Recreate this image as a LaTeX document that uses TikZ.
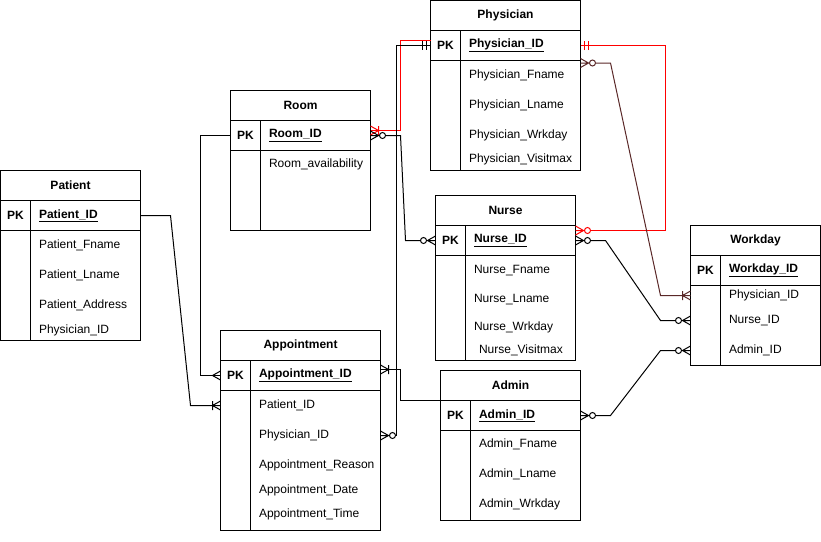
\documentclass[tikz,border=0pt]{standalone}
\usepackage{fontspec}
\setmainfont{Liberation Sans}
\usetikzlibrary{arrows.meta}

\definecolor{erred}{RGB}{255,0,0}
\definecolor{erbrown}{RGB}{90,40,40}

\newcommand{\erfont}{\fontsize{12}{14}\selectfont}

% crow's foot tips
\pgfdeclarearrow{
  name = ER many,
  setup code = {
    \pgfarrowssettipend{0pt}\pgfarrowssetlineend{0pt}
    \pgfarrowssetbackend{-8pt}\pgfarrowssetvisualbackend{-8pt}
  },
  drawing code = {
    \pgfpathmoveto{\pgfqpoint{0pt}{4.5pt}}
    \pgfpathlineto{\pgfqpoint{-8pt}{0pt}}
    \pgfpathlineto{\pgfqpoint{0pt}{-4.5pt}}
    \pgfusepathqstroke
  }
}
\pgfdeclarearrow{
  name = ER one many,
  setup code = {
    \pgfarrowssettipend{0pt}\pgfarrowssetlineend{0pt}
    \pgfarrowssetbackend{-8pt}\pgfarrowssetvisualbackend{-8pt}
  },
  drawing code = {
    \pgfpathmoveto{\pgfqpoint{0pt}{4.5pt}}
    \pgfpathlineto{\pgfqpoint{-8pt}{0pt}}
    \pgfpathlineto{\pgfqpoint{0pt}{-4.5pt}}
    \pgfpathmoveto{\pgfqpoint{-8pt}{4.5pt}}
    \pgfpathlineto{\pgfqpoint{-8pt}{-4.5pt}}
    \pgfusepathqstroke
  }
}
\pgfdeclarearrow{
  name = ER zero many,
  setup code = {
    \pgfarrowssettipend{0pt}\pgfarrowssetlineend{-15pt}
    \pgfarrowssetbackend{-15pt}\pgfarrowssetvisualbackend{-15pt}
  },
  drawing code = {
    \pgfpathmoveto{\pgfqpoint{0pt}{4.5pt}}
    \pgfpathlineto{\pgfqpoint{-8pt}{0pt}}
    \pgfpathlineto{\pgfqpoint{0pt}{-4.5pt}}
    \pgfpathmoveto{\pgfqpoint{0pt}{0pt}}
    \pgfpathlineto{\pgfqpoint{-9pt}{0pt}}
    \pgfusepathqstroke
    \pgfpathcircle{\pgfqpoint{-12pt}{0pt}}{3pt}
    \pgfusepathqstroke
  }
}
\pgfdeclarearrow{
  name = ER one one,
  setup code = {
    \pgfarrowssettipend{0pt}\pgfarrowssetlineend{0pt}
    \pgfarrowssetbackend{-8pt}\pgfarrowssetvisualbackend{-8pt}
  },
  drawing code = {
    \pgfpathmoveto{\pgfqpoint{-4pt}{4.5pt}}
    \pgfpathlineto{\pgfqpoint{-4pt}{-4.5pt}}
    \pgfpathmoveto{\pgfqpoint{-8pt}{4.5pt}}
    \pgfpathlineto{\pgfqpoint{-8pt}{-4.5pt}}
    \pgfusepathqstroke
  }
}

\tikzset{
  er head/.style={draw, anchor=north west, minimum height=30pt, inner sep=0pt, outer sep=0pt, font=\erfont\bfseries},
  er row/.style={draw, anchor=north west, minimum height=30pt, inner sep=0pt, outer sep=0pt},
  er bold/.style={inner sep=0pt, font=\erfont\bfseries},
  er attr/.style={anchor=west, inner sep=0pt, font=\erfont},
  thin div/.style={},
  thick div/.style={line width=1.8pt},
}

% #1 name, #2 x, #3 y, #4 width, #5 body height, #6 title, #7 key, #8 divider
\newcommand{\ertable}[8]{%
  \node[er head, minimum width=#4pt] (#1) at (#2,#3) {#6};
  \node[er row, minimum width=#4pt] (#1-pk) at (#1.south west) {};
  \node[er row, minimum width=#4pt, minimum height=#5pt] (#1-body) at (#1-pk.south west) {};
  \draw[#8] ([xshift=30pt]#1-pk.north west) -- ([xshift=30pt]#1-body.south west);
  \node[er bold] (#1-pkl) at ([xshift=15pt]#1-pk.west) {PK};
  \node[er bold, anchor=west] (#1-key) at ([xshift=38pt]#1-pk.west) {\underline{#7}};
}

\begin{document}
\begin{tikzpicture}[x=1pt, y=-1pt, line width=1pt]
  \useasboundingbox (0,0) rectangle (821,541);

  % tables
  \ertable{phys}{430.5}{0.5}{150}{110}{Physician}{Physician\_ID}{thick div}
  \ertable{room}{230.5}{90.5}{140}{80}{Room}{Room\_ID}{thin div}
  \ertable{pat}{0.5}{170.5}{140}{110}{Patient}{Patient\_ID}{thick div}
  \ertable{appt}{220.5}{330.5}{160}{140}{Appointment}{Appointment\_ID}{thick div}
  \ertable{nurse}{435.5}{195.5}{140}{105}{Nurse}{Nurse\_ID}{thick div}
  \ertable{admin}{440.5}{370.5}{140}{90}{Admin}{Admin\_ID}{thin div}
  \ertable{wd}{690.5}{225.5}{130}{80}{Workday}{Workday\_ID}{thin div}

  % attributes
  \foreach \y/\t [count=\i] in {15pt/Physician\_Fname, 45pt/Physician\_Lname, 75pt/Physician\_Wrkday, 99pt/Physician\_Visitmax}
    \node[er attr] (phys-\i) at ([xshift=38pt, yshift=-\y]phys-body.north west) {\t};
  \foreach \y/\t [count=\i] in {14pt/Room\_availability}
    \node[er attr] (room-\i) at ([xshift=38pt, yshift=-\y]room-body.north west) {\t};
  \foreach \y/\t [count=\i] in {15pt/Patient\_Fname, 45pt/Patient\_Lname, 75pt/Patient\_Address, 100pt/Physician\_ID}
    \node[er attr] (pat-\i) at ([xshift=38pt, yshift=-\y]pat-body.north west) {\t};
  \foreach \y/\t [count=\i] in {15pt/Patient\_ID, 45pt/Physician\_ID, 75pt/Appointment\_Reason, 100pt/Appointment\_Date, 124pt/Appointment\_Time}
    \node[er attr] (appt-\i) at ([xshift=38pt, yshift=-\y]appt-body.north west) {\t};
  \foreach \x/\y/\t [count=\i] in {38pt/15pt/Nurse\_Fname, 38pt/44pt/Nurse\_Lname, 38pt/72pt/Nurse\_Wrkday, 43pt/95pt/Nurse\_Visitmax}
    \node[er attr] (nurse-\i) at ([xshift=\x, yshift=-\y]nurse-body.north west) {\t};
  \foreach \y/\t [count=\i] in {14pt/Admin\_Fname, 44pt/Admin\_Lname, 74pt/Admin\_Wrkday}
    \node[er attr] (admin-\i) at ([xshift=38pt, yshift=-\y]admin-body.north west) {\t};
  \foreach \y/\t [count=\i] in {10pt/Physician\_ID, 35pt/Nurse\_ID, 65pt/Admin\_ID}
    \node[er attr] (wd-\i) at ([xshift=38pt, yshift=-\y]wd-body.north west) {\t};

  % relations
  \draw[erred, -{ER one many}] ([yshift=5pt]phys-pk.west) -- ++(-30,0) |- ([yshift=5pt]room-pk.east);
  \draw[{ER one one}-{ER zero many}] (phys-pk.west) -- ++(-34,0) |- (appt-2 -| appt-body.east);
  \draw[{ER zero many}-{ER zero many}] (room-pk.east) -- ++(30,0) -- ([xshift=-30pt]nurse-pk.west) -- (nurse-pk.west);
  \draw[-{ER many}] (room-pk.west) -- ++(-30,0) |- (appt-pk.west);
  \draw[-{ER one many}] (pat-pk.east) -- ++(30,0) -- ([xshift=-30pt]appt-1 -| appt-body.west) -- (appt-1 -| appt-body.west);
  \draw[{ER one many}-] ([yshift=6pt]appt-pk.east) -- ++(20,0) |- (admin-pk.north west);
  \draw[erred, {ER one one}-{ER zero many}] (phys-pk.east) -- ++(85,0) |- ([yshift=10pt]nurse-pk.east);
  \draw[erbrown, {ER zero many}-{ER one many}] ([yshift=-2.5pt]phys-body.north east) -- ++(30,0) -- ([xshift=-30pt]wd-1 -| wd-body.west) -- (wd-1 -| wd-body.west);
  \draw[{ER zero many}-{ER zero many}] (nurse-pk.east) -- ++(30,0) -- ([xshift=-30pt]wd-2 -| wd-body.west) -- (wd-2 -| wd-body.west);
  \draw[{ER zero many}-{ER zero many}] (admin-pk.east) -- ++(30,0) -- ([xshift=-30pt]wd-3 -| wd-body.west) -- (wd-3 -| wd-body.west);
\end{tikzpicture}
\end{document}
